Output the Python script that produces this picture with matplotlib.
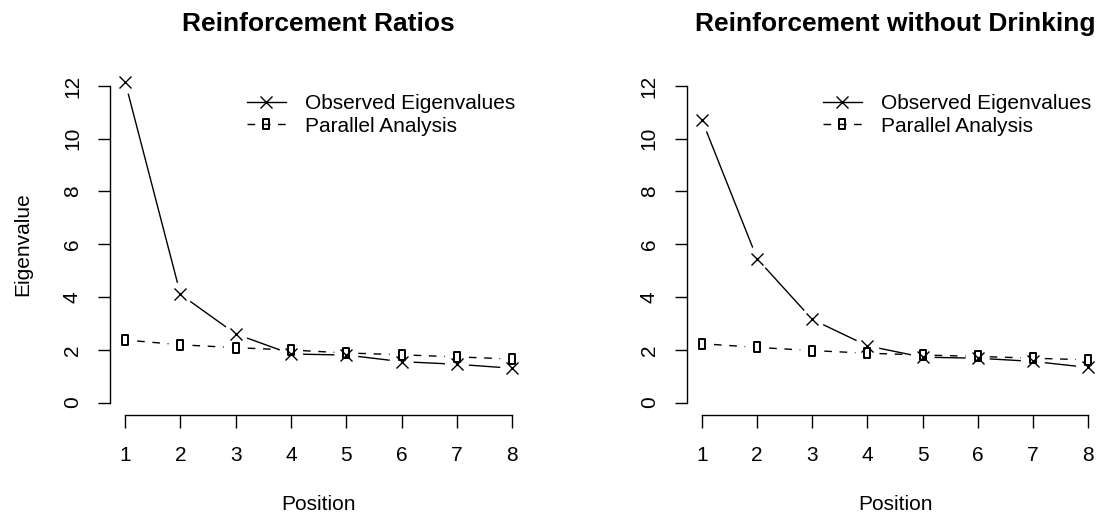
import numpy as np
import matplotlib
matplotlib.use("Agg")
import matplotlib.pyplot as plt
from matplotlib.path import Path
from matplotlib.lines import Line2D

plt.rcParams['font.family'] = ['Liberation Sans', 'DejaVu Sans']

# data
positions = [1, 2, 3, 4, 5, 6, 7, 8]
ratios_observed = [12.15, 4.1, 2.6, 1.84, 1.80, 1.55, 1.45, 1.30]
ratios_parallel = [2.37, 2.19, 2.08, 1.99, 1.88, 1.81, 1.73, 1.65]
nodrink_observed = [10.7, 5.45, 3.15, 2.15, 1.72, 1.68, 1.56, 1.33]
nodrink_parallel = [2.23, 2.09, 1.97, 1.87, 1.80, 1.75, 1.68, 1.62]

titles = ["Reinforcement Ratios", "Reinforcement without Drinking"]
legend_labels = ["Observed Eigenvalues", "Parallel Analysis"]
yticks = [0, 2, 4, 6, 8, 10, 12]

# narrow open rectangle, like the reference's parallel-analysis symbol
rect = Path([(-0.5, -1), (0.5, -1), (0.5, 1), (-0.5, 1), (-0.5, -1)],
            [Path.MOVETO, Path.LINETO, Path.LINETO, Path.LINETO, Path.CLOSEPOLY])

LW = 1.0
DASH = (5.5, 5.5)
GAP = 12  # px gap around points (R type="b")
FS = 15


def plot_b(ax, x, y, ls, marker, ms, mew):
    # line segments shortened at both ends, then the points
    pts = ax.transData.transform(np.column_stack([x, y]))
    inv = ax.transData.inverted()
    for p0, p1 in zip(pts[:-1], pts[1:]):
        d = p1 - p0
        L = np.hypot(*d)
        if L <= 2 * GAP:
            continue
        u = d / L
        a = inv.transform(p0 + u * GAP)
        b = inv.transform(p1 - u * GAP)
        if ls == '--':
            ax.plot([a[0], b[0]], [a[1], b[1]], color='black', lw=LW, ls='--', dashes=DASH)
        else:
            ax.plot([a[0], b[0]], [a[1], b[1]], color='black', lw=LW, solid_capstyle='butt')
    ax.plot(x, y, ls='none', marker=marker, ms=ms, mew=mew, mfc='none', mec='black')


fig = plt.figure(figsize=(11.08, 5.18), dpi=100)
W, H = 1108, 518
boxes = [(109.7, 527.7), (686.6, 1103.4)]
top, bottom = 73.3, 415.2
data = [(ratios_observed, ratios_parallel), (nodrink_observed, nodrink_parallel)]
leg_x = [247, 823]

for i, ((x0, x1), (obs, par)) in enumerate(zip(boxes, data)):
    ax = fig.add_axes([x0 / W, (H - bottom) / H, (x1 - x0) / W, (bottom - top) / H])
    ax.set_xlim(1 - 0.28, 8 + 0.28)
    ax.set_ylim(-0.48, 12.48)
    for s in ['top', 'right']:
        ax.spines[s].set_visible(False)
    ax.spines['left'].set_bounds(0, 12)
    ax.spines['bottom'].set_bounds(1, 8)
    for s in ['left', 'bottom']:
        ax.spines[s].set_linewidth(1.0)
    ax.set_xticks(positions)
    ax.set_yticks(yticks)
    ax.tick_params(axis='both', length=9, width=1.0, labelsize=FS)
    ax.tick_params(axis='x', pad=13)
    ax.tick_params(axis='y', pad=11, labelrotation=90)
    for lab in ax.get_yticklabels():
        lab.set_va('center')

    plot_b(ax, positions, obs, '-', 'x', 8, 1.0)
    plot_b(ax, positions, par, '--', rect, 7.5, 1.4)

    ax.set_title(titles[i], fontsize=19, fontweight='bold', pad=0,
                 y=1.0 + (top - 24) / (bottom - top), va='center')

    ax.set_xlabel("Position", fontsize=FS)
    ax.xaxis.set_label_coords(0.5, (bottom - 505) / (bottom - top))
    ax.xaxis.label.set_va('center')
    if i == 0:
        ax.set_ylabel("Eigenvalue", fontsize=FS)
        ax.yaxis.set_label_coords((23 - x0) / (x1 - x0), 0.5)
        ax.yaxis.label.set_va('center')

    handles = [Line2D([], [], color='black', lw=LW, marker='x', ms=8, mew=1.0),
               Line2D([], [], color='black', lw=LW, ls='--', dashes=DASH, marker=rect,
                      ms=7.5, mew=1.4, mfc='none')]
    ax.legend(handles, legend_labels, loc='upper left', frameon=False, fontsize=FS,
              bbox_to_anchor=((leg_x[i] - x0) / (x1 - x0), (bottom - 94) / (bottom - top)),
              borderaxespad=0, borderpad=0, handlelength=1.85, handletextpad=0.95,
              labelspacing=0.18, numpoints=1)

fig.savefig("out.png", dpi=100)
